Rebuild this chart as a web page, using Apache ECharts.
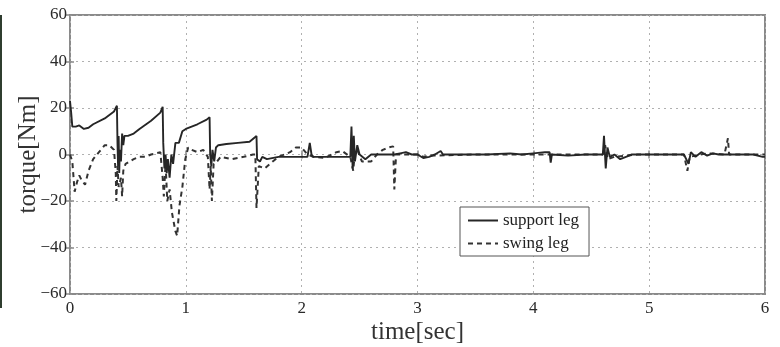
<!DOCTYPE html>
<html>
<head>
<meta charset="utf-8">
<script src="https://cdn.jsdelivr.net/npm/echarts@6/dist/echarts.min.js"></script>
<style>
  html, body { margin: 0; padding: 0; background: #fff; }
  #chart { width: 780px; height: 347px; }
</style>
</head>
<body>
<div id="chart"></div>
<script>
// support leg (solid) - time [sec] / torque [Nm]
const supportTime = [0, 0.01, 0.02, 0.05, 0.08, 0.12, 0.16, 0.2, 0.3, 0.38, 0.405, 0.41, 0.415, 0.42, 0.425, 0.43, 0.44, 0.45, 0.46, 0.47, 0.5, 0.55, 0.6, 0.7, 0.78, 0.8, 0.805, 0.815, 0.825, 0.835, 0.845, 0.86, 0.875, 0.89, 0.91, 0.94, 0.97, 1.0, 1.1, 1.18, 1.205, 1.21, 1.22, 1.23, 1.245, 1.26, 1.28, 1.35, 1.45, 1.55, 1.61, 1.615, 1.64, 1.66, 1.7, 1.8, 2.0, 2.05, 2.07, 2.085, 2.1, 2.2, 2.3, 2.42, 2.43, 2.44, 2.45, 2.46, 2.48, 2.5, 2.55, 2.6, 2.7, 2.8, 2.85, 2.9, 2.95, 3.0, 3.05, 3.1, 3.15, 3.2, 3.22, 3.4, 3.6, 3.8, 3.9, 4.0, 4.1, 4.14, 4.15, 4.16, 4.3, 4.45, 4.6, 4.61, 4.625, 4.64, 4.66, 4.7, 4.75, 4.8, 4.85, 5.0, 5.2, 5.3, 5.34, 5.36, 5.4, 5.45, 5.5, 5.55, 5.6, 5.7, 5.8, 5.9, 5.98, 6.0];
const supportTorque = [23, 18, 12, 12, 12.5, 11, 11.5, 13, 15.5, 18.5, 21, 5, -5, 8, -8, 2, -3, 9, 4, 8, 8, 9, 11, 14.5, 18, 20.5, 5, -6, 0, -8, -2, -10, 0, -4, 5, 5, 10, 11, 13, 15, 16, 0, -5, 2, -3, 3, 4, 4.5, 5, 5.5, 8, -2, -3, -1, -2, -1, -1, -1, 5, 0, -1, -1, -1, -1, 12, -6, 8, -3, 4, 0, -2, 0, 0, 0, 0.5, 1, 0, 0, -1.5, -1, 0, 1.5, 0, 0, 0, 0.5, 0, 0.5, 1, 1, -3.5, 0, -0.5, 0, 0, 8, -6, 3, -1, 0, -2, -1, 0, 0, 0, 0, -4, 1, -1, 1, -0.5, 0.5, 0, 0, 0, 0, -1, -1];

// swing leg (dashed)
const swingTime = [0, 0.02, 0.04, 0.06, 0.08, 0.1, 0.13, 0.16, 0.2, 0.25, 0.3, 0.34, 0.38, 0.395, 0.4, 0.41, 0.42, 0.44, 0.45, 0.46, 0.48, 0.55, 0.6, 0.65, 0.7, 0.78, 0.8, 0.81, 0.825, 0.84, 0.86, 0.88, 0.91, 0.925, 0.945, 0.97, 0.995, 1.02, 1.05, 1.1, 1.15, 1.19, 1.205, 1.215, 1.225, 1.24, 1.27, 1.3, 1.4, 1.5, 1.58, 1.6, 1.61, 1.63, 1.68, 1.75, 1.8, 1.9, 1.95, 2.0, 2.05, 2.1, 2.2, 2.3, 2.35, 2.42, 2.445, 2.46, 2.48, 2.52, 2.6, 2.65, 2.7, 2.75, 2.79, 2.8, 2.815, 2.9, 3.0, 3.05, 3.1, 3.5, 4.0, 4.6, 4.62, 4.64, 4.7, 4.9, 5.3, 5.33, 5.35, 5.5, 5.65, 5.68, 5.69, 6.0];
const swingTorque = [0, -3, -16, -12, -9, -11, -13, -7, -2, 1, 4, 4, 2, -8, -20, -5, -14, -10, -18, -7, -4, -2, -1, -1, 0, 1, -10, -18, -4, -20, -15, -25, -33, -35, -22, -14, -2, 3, 2, 1, 2, -1, -15, -5, -20, -4, -3, -1, -2, -1, 0, 0, -23, -5, -6, -3, -1, 1, 3, 3, 0, -1, -1.5, 1, 1.5, -1, -7, 1, 2, -3, -3, 0, 2, 3, 3.5, -15, 0, 0, 0, -1, -0.5, 0, 0, 0, 4, -2, -1, 0, 0, -7, -1, 0.5, 0, 7, 0, 0];

const seriesNames = ['support leg', 'swing leg'];
const xTicks = { min: 0, max: 6, interval: 1 };
const yTicks = { min: -60, max: 60, interval: 20 };

const zip = (a, b) => a.map((t, i) => [t, b[i]]);

const chart = echarts.init(document.getElementById('chart'));

const serif = 'Liberation Serif, Times New Roman, serif';
const frameColor = '#8a8a8a';
const gridLine = { show: true, lineStyle: { color: '#b0b0b0', type: [2, 4], width: 1 } };

chart.setOption({
  animation: false,
  backgroundColor: '#fff',
  graphic: [
    { type: 'rect', left: 0, top: 15, shape: { width: 2, height: 293 }, style: { fill: '#2f3d2f' } }
  ],
  grid: {
    left: 70, right: 15, top: 15, bottom: 53,
    outerBoundsMode: 'none',
    show: true, borderColor: frameColor, borderWidth: 2, backgroundColor: '#fff'
  },
  legend: {
    left: 460, top: 207,
    orient: 'vertical',
    data: seriesNames,
    itemWidth: 30, itemHeight: 12, itemGap: 6,
    padding: [5, 10, 4, 7],
    backgroundColor: '#fff',
    borderColor: '#555', borderWidth: 1,
    itemStyle: { opacity: 0 },
    textStyle: { fontFamily: serif, fontSize: 17, color: '#222' }
  },
  xAxis: [
    {
      type: 'value', ...xTicks,
      name: 'time[sec]', nameLocation: 'middle', nameGap: 38, nameMoveOverlap: false,
      nameTextStyle: { fontFamily: serif, fontSize: 25, color: '#333', verticalAlign: 'middle' },
      axisLine: { show: false },
      axisTick: { show: true, inside: true, length: 4, lineStyle: { color: frameColor, width: 1.5 } },
      axisLabel: { fontFamily: serif, fontSize: 17, color: '#2a2a2a', margin: 6 },
      splitLine: gridLine
    },
    {
      type: 'value', position: 'top', ...xTicks,
      axisLine: { show: false },
      axisTick: { show: true, inside: true, length: 4, lineStyle: { color: frameColor, width: 1.5 } },
      axisLabel: { show: false },
      splitLine: { show: false }
    }
  ],
  yAxis: [
    {
      type: 'value', ...yTicks,
      name: 'torque[Nm]', nameLocation: 'middle', nameGap: 42, nameMoveOverlap: false,
      nameTextStyle: { fontFamily: serif, fontSize: 25, color: '#333', verticalAlign: 'middle' },
      axisLine: { show: false },
      axisTick: { show: true, inside: true, length: 4, lineStyle: { color: frameColor, width: 1.5 } },
      axisLabel: { fontFamily: serif, fontSize: 17, color: '#2a2a2a', margin: 3,
        formatter: v => (v < 0 ? '\u2212' + Math.abs(v) : String(v)) },
      splitLine: gridLine
    },
    {
      type: 'value', position: 'right', ...yTicks,
      axisLine: { show: false },
      axisTick: { show: true, inside: true, length: 4, lineStyle: { color: frameColor, width: 1.5 } },
      axisLabel: { show: false },
      splitLine: { show: false }
    }
  ],
  series: [
    {
      name: seriesNames[0], type: 'line',
      data: zip(supportTime, supportTorque),
      showSymbol: false, symbol: 'none',
      lineStyle: { color: '#262626', width: 1.9 },
      itemStyle: { color: '#262626' },
      z: 3
    },
    {
      name: seriesNames[1], type: 'line',
      data: zip(swingTime, swingTorque),
      showSymbol: false, symbol: 'none',
      lineStyle: { color: '#333', width: 2, type: [5, 4] },
      itemStyle: { color: '#333' },
      z: 2
    }
  ]
});
</script>
</body>
</html>
